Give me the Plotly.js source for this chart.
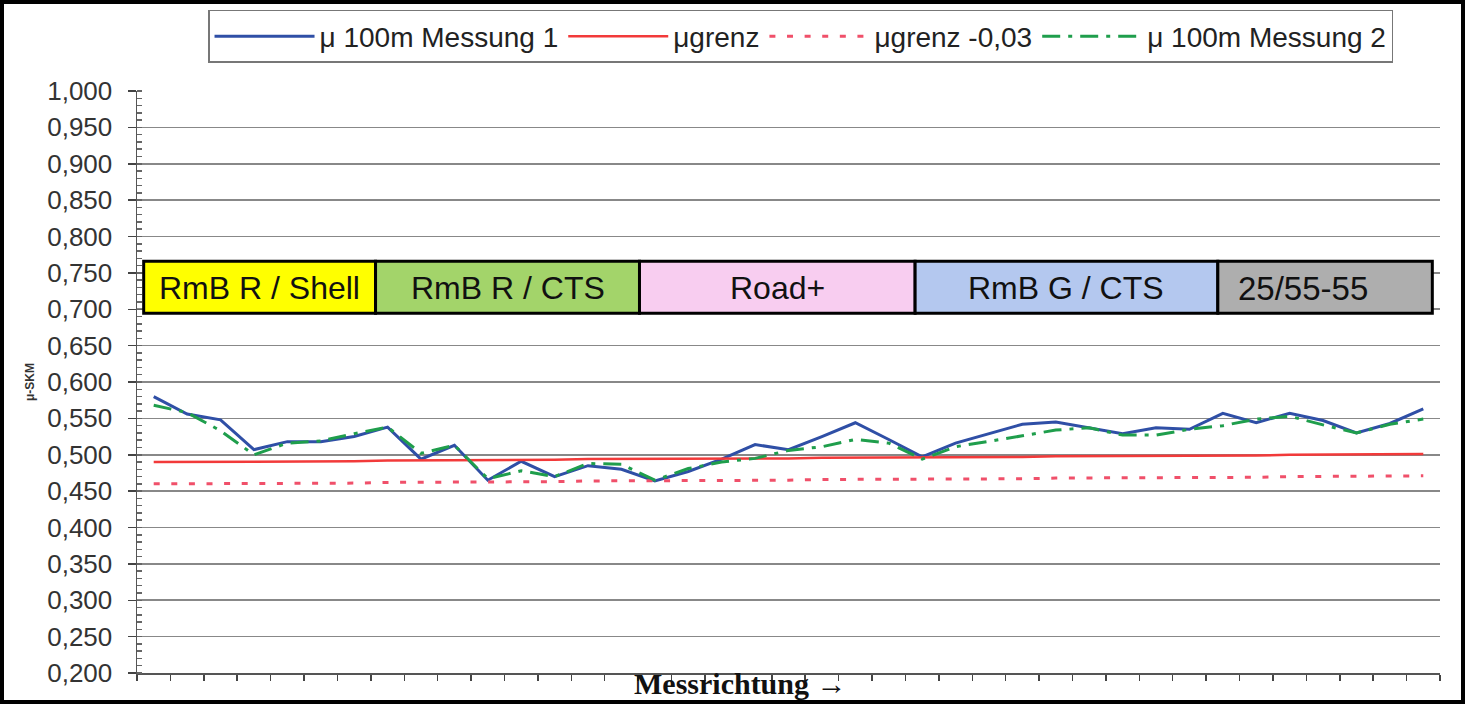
<!DOCTYPE html>
<html>
<head>
<meta charset="utf-8">
<script src="https://cdn.plot.ly/plotly-3.0.1.min.js"></script>
<style>
html,body{margin:0;padding:0;background:#fff;}
#chart{width:1465px;height:704px;}
#frame{position:absolute;left:0;top:0;width:1465px;height:704px;box-sizing:border-box;border:4px solid #000;pointer-events:none;}
</style>
</head>
<body>
<div id="chart"></div>
<div id="frame"></div>
<script>
// ---- data ----
const messung1 = [0.580,0.556,0.548,0.507,0.518,0.518,0.525,0.538,0.494,0.513,
                  0.465,0.491,0.470,0.485,0.480,0.464,0.477,0.494,0.514,0.507,
                  0.525,0.544,0.521,0.497,0.516,0.529,0.542,0.545,0.537,0.529,
                  0.537,0.535,0.557,0.544,0.557,0.547,0.530,0.543,0.563];
const messung2 = [0.568,0.558,0.533,0.500,0.516,0.519,0.529,0.538,0.502,0.513,
                  0.467,0.478,0.470,0.488,0.487,0.465,0.481,0.490,0.495,0.506,
                  0.511,0.521,0.516,0.494,0.511,0.518,0.526,0.534,0.537,0.527,
                  0.527,0.535,0.540,0.549,0.553,0.541,0.530,0.542,0.549];
const mugrenz = [0.490,0.490,0.490,0.491,0.491,0.491,0.491,0.492,0.492,0.492,
                 0.493,0.493,0.493,0.494,0.494,0.494,0.494,0.495,0.495,0.495,
                 0.496,0.496,0.496,0.496,0.497,0.497,0.497,0.498,0.498,0.498,
                 0.498,0.499,0.499,0.499,0.500,0.500,0.500,0.501,0.501];
const mugrenzMinus = [0.460,0.460,0.460,0.461,0.461,0.461,0.461,0.462,0.462,0.462,
                      0.463,0.463,0.463,0.464,0.464,0.464,0.464,0.465,0.465,0.465,
                      0.466,0.466,0.466,0.466,0.467,0.467,0.467,0.468,0.468,0.468,
                      0.468,0.469,0.469,0.469,0.470,0.470,0.470,0.471,0.471];
const seriesNames = ["μ 100m Messung 1","μgrenz","μgrenz -0,03","μ 100m Messung 2"];
const sectionLabels = ["RmB R / Shell","RmB R / CTS","Road+","RmB G / CTS","25/55-55"];
const sectionColors = ["#ffff00","#a3d46a","#f8cdf0","#b4c8ef","#aeaeae"];
const xTitle = "Messrichtung →";
const yTitle = "μ-SKM";

// ---- chart ----
const xs = messung1.map((_, i) => i);
const traces = [
  {x: xs, y: messung1, name: seriesNames[0], type: 'scatter', mode: 'lines',
   line: {color: '#2f4fa6', width: 3}},
  {x: xs, y: mugrenz, name: seriesNames[1], type: 'scatter', mode: 'lines',
   line: {color: '#f23a3a', width: 2.5}},
  {x: xs, y: mugrenzMinus, name: seriesNames[2], type: 'scatter', mode: 'lines',
   line: {color: '#f0506a', width: 3, dash: '6px,11.6px'}},
  {x: xs, y: messung2, name: seriesNames[3], type: 'scatter', mode: 'lines',
   line: {color: '#1f9e4c', width: 3, dash: '18px,8px,4px,8px'}}
];

const bounds = [-0.30, 6.64, 14.54, 22.79, 31.85, 38.27];
const textX = [3.17, 10.59, 18.66, 27.32, 34.4];
const shapes = [];
const annotations = [];
sectionLabels.forEach((lab, i) => {
  shapes.push({type: 'rect', xref: 'x', yref: 'y', x0: bounds[i], x1: bounds[i+1],
    y0: 0.6946, y1: 0.766, fillcolor: sectionColors[i], line: {color: '#000', width: 3}, layer: 'above'});
  annotations.push({xref: 'x', yref: 'y', x: textX[i], y: 0.729, text: lab, showarrow: false,
    font: {family: 'Liberation Sans, Arial', size: i === 4 ? 33 : 32, color: '#111'}});
});
annotations.push({xref: 'paper', yref: 'paper', x: 0.4635, y: -0.0189, xanchor: 'center', yanchor: 'middle',
  text: xTitle, showarrow: false,
  font: {family: 'Liberation Serif, Times New Roman', size: 30, color: '#111', weight: 'bold'}});

const layout = {
  width: 1465, height: 704,
  margin: {l: 137, r: 25, t: 91, b: 31, autoexpand: false},
  paper_bgcolor: '#fff', plot_bgcolor: '#fff',
  separators: ',.',
  showlegend: true,
  legend: {orientation: 'h', xref: 'container', yref: 'container', x: 0.142, xanchor: 'left',
    y: 0.9858, yanchor: 'top',
    bordercolor: '#777', borderwidth: 1.5, bgcolor: '#fff', itemwidth: 100,
    font: {family: 'Liberation Sans, Arial', size: 28, color: '#222'}},
  xaxis: {type: 'linear', range: [-0.5, 38.5], tickmode: 'linear', tick0: -0.5, dtick: 1,
    showticklabels: false, ticks: 'outside', ticklen: 6, tickcolor: '#444', tickwidth: 1.5,
    showgrid: false, zeroline: false, showline: true, linecolor: '#555', linewidth: 1.5, fixedrange: true},
  yaxis: {range: [0.2, 1.0], tickmode: 'linear', tick0: 0.2, dtick: 0.05, tickformat: '.3f',
    ticks: 'outside', ticklen: 8, tickcolor: '#444', tickwidth: 1.5, ticklabelstandoff: 10,
    minor: {dtick: 0.01, ticks: 'inside', ticklen: 5, tickcolor: '#666', showgrid: false},
    tickfont: {family: 'Liberation Sans, Arial', size: 26, color: '#333'},
    showgrid: true, gridcolor: '#888', gridwidth: 1.6, zeroline: false,
    showline: true, linecolor: '#555', linewidth: 1.5,
    title: {text: yTitle, standoff: 10, font: {family: 'Liberation Sans, Arial', size: 12, color: '#333', weight: 'bold'}}},
  shapes: shapes,
  annotations: annotations
};

Plotly.newPlot('chart', traces, layout, {staticPlot: true});
</script>
</body>
</html>
